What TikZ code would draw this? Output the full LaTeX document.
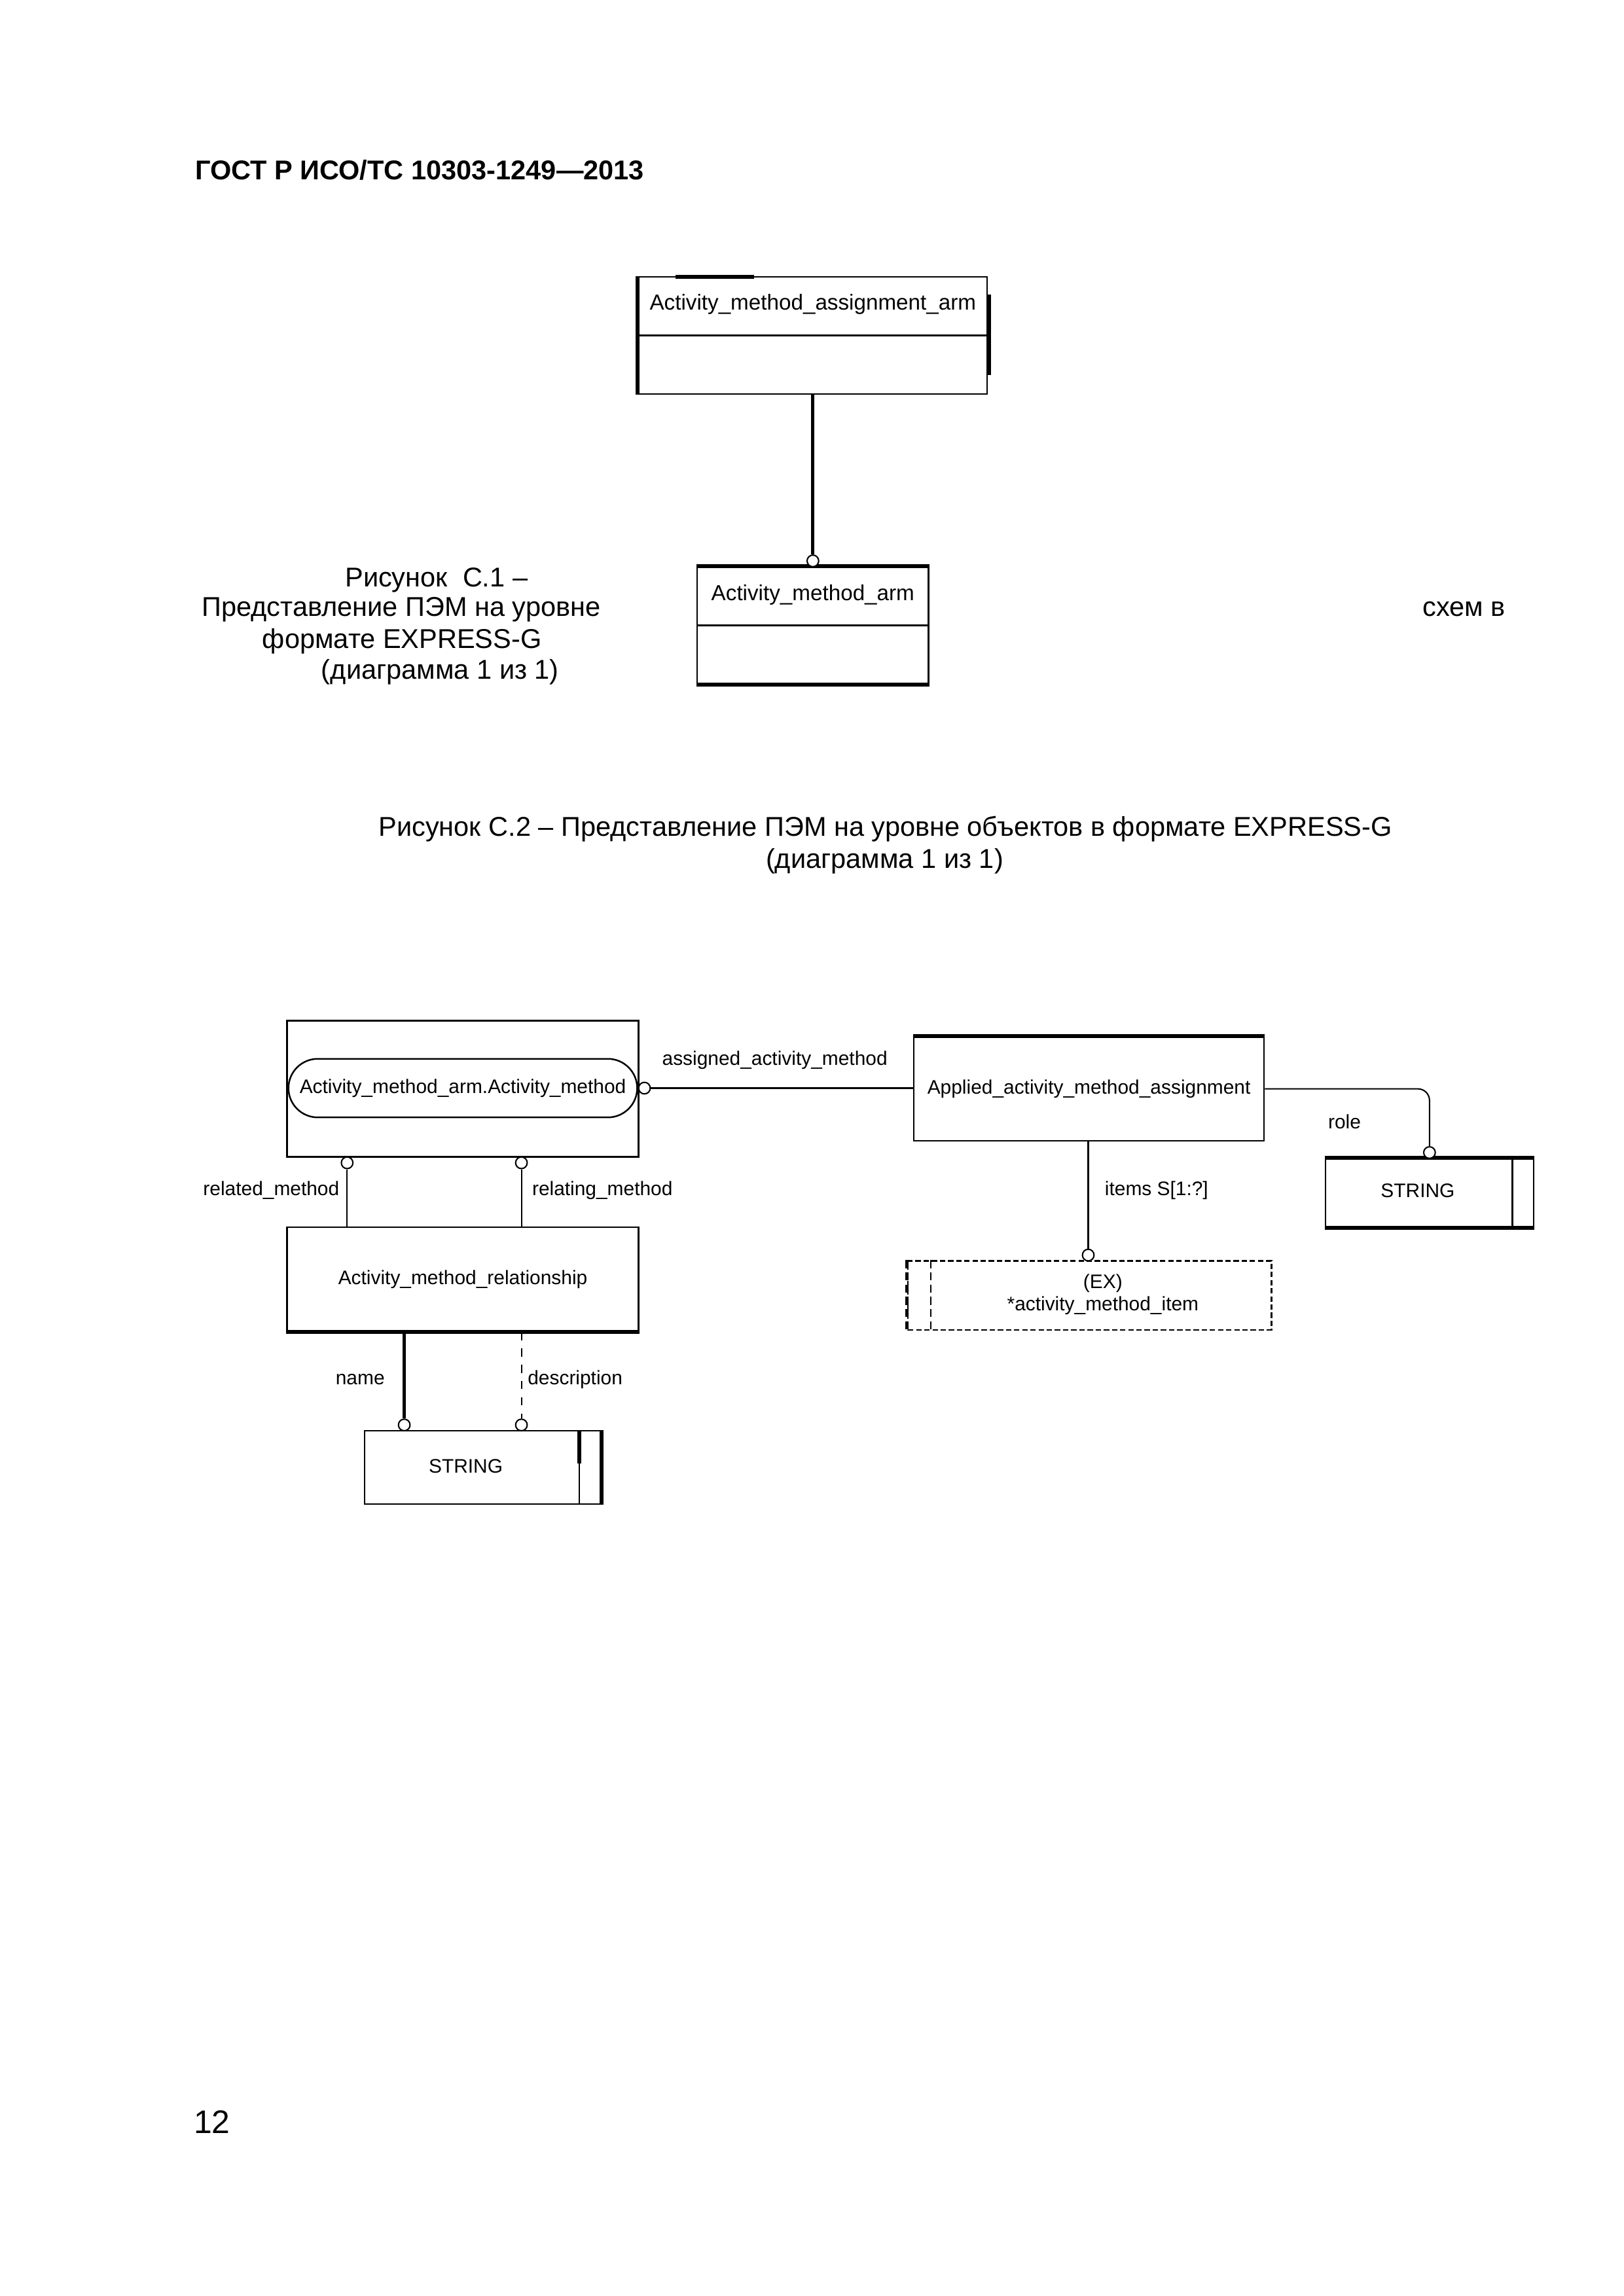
\documentclass[tikz,border=0pt]{standalone}
\usepackage{fontspec}
\setmainfont{Liberation Sans}
\usetikzlibrary{shapes.misc}
\tikzset{
  ent/.style={draw, line width=0.6pt, inner sep=0pt},
  att/.style={draw, circle, fill=white, line width=0.5pt, minimum size=0.15cm, inner sep=0pt},
  rel/.style={line width=0.5pt},
  relthick/.style={line width=1.2pt},
  thickedge/.style={line width=1.4pt},
  txt/.style={inner sep=0pt, font=\fontsize{7.2}{8.2}\selectfont},
  txtb/.style={inner sep=0pt, font=\fontsize{8}{9.6}\selectfont},
  captxt/.style={inner sep=0pt, font=\fontsize{10}{12}\selectfont}
}

\begin{document}
\begin{tikzpicture}[x=0.018943cm, y=-0.018943cm]
    \useasboundingbox (0,0) rectangle (1108.8,1567.8);

    \coordinate (Hdr) at (133,116);
    \coordinate (Asg) at (555,229);
    \coordinate (Arm) at (555,427);
    \coordinate (Amb) at (316,743.5);
    \coordinate (Apl) at (743.5,743.5);
    \coordinate (Amr) at (316,873.5);
    \coordinate (Strr) at (976,814.5);
    \coordinate (Strl) at (329.5,1002);
    \coordinate (Sel) at (744,884.5);
    \coordinate (Pg) at (132,1449);

    \node[anchor=west, inner sep=0pt, font=\bfseries\fontsize{10}{12}\selectfont] (hdr) at (Hdr) {ГОСТ Р ИСО/ТС 10303-1249—2013};

    % figure C.1
    \node[ent, minimum width=4.508cm, minimum height=1.515cm] (asg) at (Asg) {};
    \node[ent, minimum width=2.993cm, minimum height=1.515cm] (arm) at (Arm) {};
    \draw[line width=0.6pt] (asg.west) -- (asg.east);
    \draw[line width=0.6pt] (arm.west) -- (arm.east);
    \draw[thickedge] (asg.north west) -- (asg.south west);
    \draw[thickedge] (461,189) -- (515,189);
    \draw[thickedge] (675.5,201) -- (675.5,256);
    \draw[thickedge] (arm.north west) -- (arm.north east);
    \draw[thickedge] (arm.south west) -- (arm.south east);
    \node[txtb] (asgt) at (555,208) {Activity\_method\_assignment\_arm};
    \node[txtb] (armt) at (555,406) {Activity\_method\_arm};
    \node[att] (carm) at (555,383) {};
    \draw[relthick] (asg) -- (carm);

    \node[captxt] (capa) at (298,396) {Рисунок\ \ С.1 –};
    \node[captxt] (capb) at (274,416) {Представление ПЭМ на уровне};
    \node[captxt, anchor=west] (cape) at (971,416) {схем в};
    \node[captxt] (capc) at (274.5,438) {формате EXPRESS-G};
    \node[captxt] (capd) at (300.5,459) {(диаграмма 1 из 1)};

    \node[captxt] (cpta) at (604.5,566) {Рисунок С.2 – Представление ПЭМ на уровне объектов в формате EXPRESS-G};
    \node[captxt] (cptb) at (604,588) {(диаграмма 1 из 1)};

    % figure C.2
    \node[ent, minimum width=4.546cm, minimum height=1.761cm] (amb) at (Amb) {};
    \node[draw, line width=0.6pt, rounded rectangle, minimum width=4.508cm, minimum height=0.757cm, inner sep=0pt, font=\fontsize{7.2}{8.2}\selectfont] (amm) at (316,743) {Activity\_method\_arm.Activity\_method};

    \node[ent, txt, minimum width=4.527cm, minimum height=1.345cm] (apl) at (Apl) {Applied\_activity\_method\_assignment};
    \draw[thickedge] (apl.north west) -- (apl.north east);

    \node[att] (cass) at (440,743) {};
    \draw[rel] (cass) -- (cass -| apl.west);
    \node[txt] (lass) at (529,724) {assigned\_activity\_method};

    \node[ent, minimum width=2.690cm, minimum height=0.891cm] (strr) at (Strr) {};
    \draw[line width=0.6pt] ([xshift=-0.284cm]strr.north east) -- ([xshift=-0.284cm]strr.south east);
    \draw[thickedge] (strr.north west) -- (strr.north east);
    \draw[thickedge] (strr.south west) -- (strr.south east);
    \node[txt] (strrt) at (968,813) {STRING};
    \node[att] (crole) at (976,787) {};
    \draw[rel, rounded corners=0.15cm] (apl.east) -| (crole);
    \node[txt] (lrole) at (918,766) {role};

    \node[draw, dash pattern=on 2pt off 1pt, line width=0.6pt, minimum width=4.698cm, minimum height=0.891cm, inner sep=0pt] (sel) at (Sel) {};
    \draw[line width=1.2pt, dash pattern=on 3pt off 1.5pt] (sel.north west) -- (sel.south west);
    \draw[line width=0.5pt, dash pattern=on 3pt off 1.5pt] ([xshift=0.303cm]sel.north west) -- ([xshift=0.303cm]sel.south west);
    \node[txt, align=center] (selt) at (753,884) {(EX)\\*activity\_method\_item};
    \node[att] (citm) at (743,857) {};
    \draw[rel] (citm |- apl.south) -- (citm);
    \node[txt, anchor=west] (litm) at (754,813) {items S[1:?]};

    \node[ent, txt, minimum width=4.546cm, minimum height=1.345cm] (amr) at (Amr) {Activity\_method\_relationship};
    \draw[thickedge] (amr.south west) -- (amr.south east);
    \node[att] (crla) at (237,794) {};
    \node[att] (crlb) at (356,794) {};
    \draw[rel] (crla) -- (crla |- amr.north);
    \draw[rel] (crlb) -- (crlb |- amr.north);
    \node[txt, anchor=east] (lrla) at (232,813) {related\_method};
    \node[txt, anchor=west] (lrlb) at (363,813) {relating\_method};

    \node[ent, minimum width=3.050cm, minimum height=0.947cm] (strl) at (Strl) {};
    \draw[line width=0.6pt] ([xshift=-0.284cm]strl.north east) -- ([xshift=-0.284cm]strl.south east);
    \draw[thickedge] ([xshift=-0.284cm]strl.north east) -- ++(0,23);
    \draw[thickedge] (strl.north east) -- (strl.south east);
    \node[txt] (strlt) at (318,1001) {STRING};
    \node[att] (cnam) at (276,973) {};
    \node[att] (cdsc) at (356,973) {};
    \draw[relthick] (cnam |- amr.south) -- (cnam);
    \draw[rel, dashed] (cdsc |- amr.south) -- (cdsc);
    \node[txt, anchor=east] (lnam) at (263,942) {name};
    \node[txt, anchor=west] (ldsc) at (360,942) {description};

    \node[anchor=west, inner sep=0pt, font=\fontsize{12}{14}\selectfont] (pg) at (Pg) {12};
\end{tikzpicture}
\end{document}
